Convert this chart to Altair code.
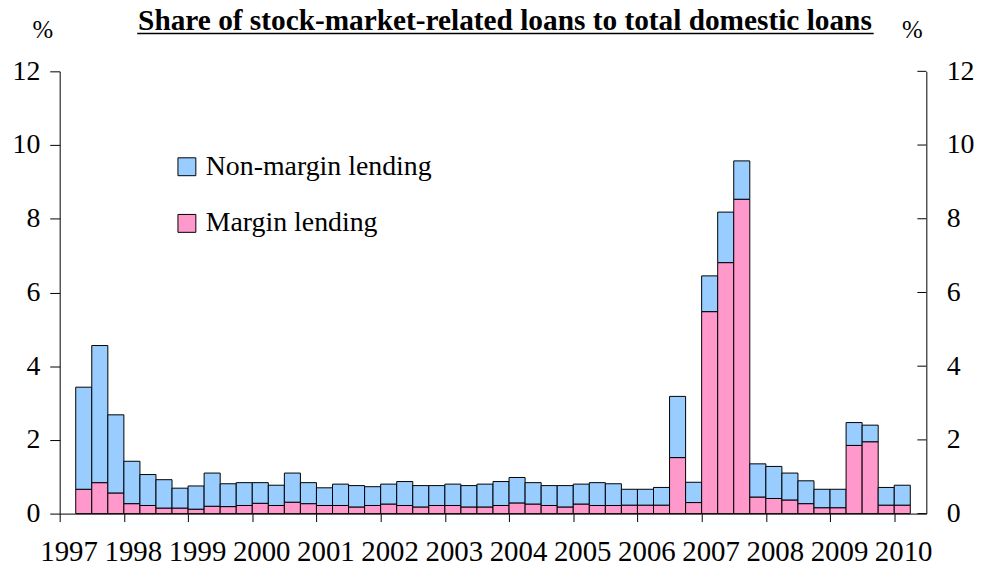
import altair as alt
import pandas as pd

# ---- data (quarterly, 1997Q2 .. 2010Q1) ----
years = list(range(1997, 2011))
quarters = [f"{y}Q{q}" for y in years for q in range(1, 5)][1:53]

margin = [0.66, 0.84, 0.56,
          0.27, 0.22, 0.15, 0.15,
          0.12, 0.20, 0.19, 0.22,
          0.28, 0.22, 0.31, 0.27,
          0.22, 0.22, 0.18, 0.22,
          0.26, 0.22, 0.18, 0.22,
          0.22, 0.18, 0.18, 0.22,
          0.29, 0.26, 0.22, 0.18,
          0.26, 0.22, 0.22, 0.23,
          0.23, 0.23, 1.52, 0.30,
          5.48, 6.81, 8.53, 0.45,
          0.41, 0.37, 0.27, 0.16,
          0.16, 1.85, 1.95, 0.23,
          0.23]
non_margin = [2.77, 3.72, 2.12,
              1.15, 0.84, 0.77, 0.54,
              0.63, 0.90, 0.62, 0.62,
              0.56, 0.55, 0.79, 0.57,
              0.48, 0.58, 0.58, 0.51,
              0.54, 0.65, 0.58, 0.54,
              0.58, 0.58, 0.62, 0.65,
              0.69, 0.58, 0.54, 0.58,
              0.54, 0.62, 0.59, 0.43,
              0.43, 0.48, 1.66, 0.55,
              0.97, 1.37, 1.04, 0.90,
              0.87, 0.73, 0.62, 0.50,
              0.50, 0.62, 0.45, 0.48,
              0.54]
series = ["Non-margin lending", "Margin lending"]
colors = ["#99CCFF", "#FF99CC"]
y_ticks = [0, 2, 4, 6, 8, 10, 12]
title_text = "Share of stock-market-related loans to total domestic loans"

rows = []
for i, q in enumerate(quarters):
    yr, qq = int(q[:4]), int(q[-1])
    start = yr + (qq - 1) / 4
    rows.append(dict(quarter=q, start=start, end=start + 0.25, series="Margin lending",
                     lo=0.0, hi=margin[i]))
    rows.append(dict(quarter=q, start=start, end=start + 0.25, series="Non-margin lending",
                     lo=margin[i], hi=margin[i] + non_margin[i]))
df = pd.DataFrame(rows)

W, H = 872, 445
FONT = "Liberation Serif"

bars = alt.Chart(df).mark_bar(stroke="black", strokeWidth=1).encode(
    x=alt.X("start:Q", title=None,
            scale=alt.Scale(domain=[1997, 2010.5], nice=False, zero=False),
            axis=alt.Axis(values=years, format="d", tickSize=8, labelPadding=16,
                          labelOffset=9, labelOverlap=False, labelFlush=False,
                          labelFontSize=29, grid=False)),
    x2="end:Q",
    y=alt.Y("lo:Q", title=None,
            scale=alt.Scale(domain=[0, 12], nice=False),
            axis=alt.Axis(values=y_ticks, tickSize=10, labelPadding=10, grid=False)),
    y2="hi:Q",
    color=alt.Color("series:N", scale=alt.Scale(domain=series, range=colors),
                    legend=alt.Legend(title=None, orient="none", legendX=114, legendY=82,
                                      symbolType="square", symbolSize=324,
                                      symbolStrokeColor="black", symbolStrokeWidth=1,
                                      labelFont=FONT, labelFontSize=28, labelColor="black",
                                      labelLimit=0, labelOffset=5, rowPadding=29,
                                      padding=0)),
    tooltip=["quarter:N", "series:N"],
)

right_axis = alt.Chart(pd.DataFrame({"v": y_ticks})).mark_rule(
    color="black", strokeWidth=1).encode(
    y=alt.Y("v:Q", title=None, scale=alt.Scale(domain=[0, 12], nice=False),
            axis=alt.Axis(orient="right", values=y_ticks, tickSize=0, labelPadding=20,
                          grid=False)),
    x=alt.value(W - 9),
    x2=alt.value(W),
)

title = alt.Chart(pd.DataFrame({"t": [title_text]})).mark_text(
    font=FONT, fontSize=29.5, fontWeight="bold", align="center", baseline="alphabetic",
    color="black").encode(text="t:N", x=alt.value(448), y=alt.value(-42))

underline = alt.Chart(pd.DataFrame({"t": [title_text]})).mark_rule(
    color="black", strokeWidth=1.5).encode(
    x=alt.value(78), x2=alt.value(819), y=alt.value(-38))

pct_left = alt.Chart(pd.DataFrame({"t": ["%"]})).mark_text(
    font=FONT, fontSize=25, align="center", baseline="alphabetic", color="black").encode(
    text="t:N", x=alt.value(-17), y=alt.value(-34))

pct_right = alt.Chart(pd.DataFrame({"t": ["%"]})).mark_text(
    font=FONT, fontSize=25, align="center", baseline="alphabetic", color="black").encode(
    text="t:N", x=alt.value(858), y=alt.value(-34))

chart = alt.layer(bars, right_axis, title, underline, pct_left, pct_right).resolve_scale(
    y="independent"
).properties(
    width=W, height=H,
    autosize=alt.AutoSizeParams(type="none"),
    padding={"left": 52, "top": 62, "right": 55, "bottom": 52},
).configure_view(strokeWidth=0).configure_axis(
    labelFont=FONT, labelFontSize=28, labelColor="black",
    domainColor="black", tickColor="black", domainWidth=1, tickWidth=1,
)

chart.save("out.html", embed_options={"renderer": "svg", "actions": False})
